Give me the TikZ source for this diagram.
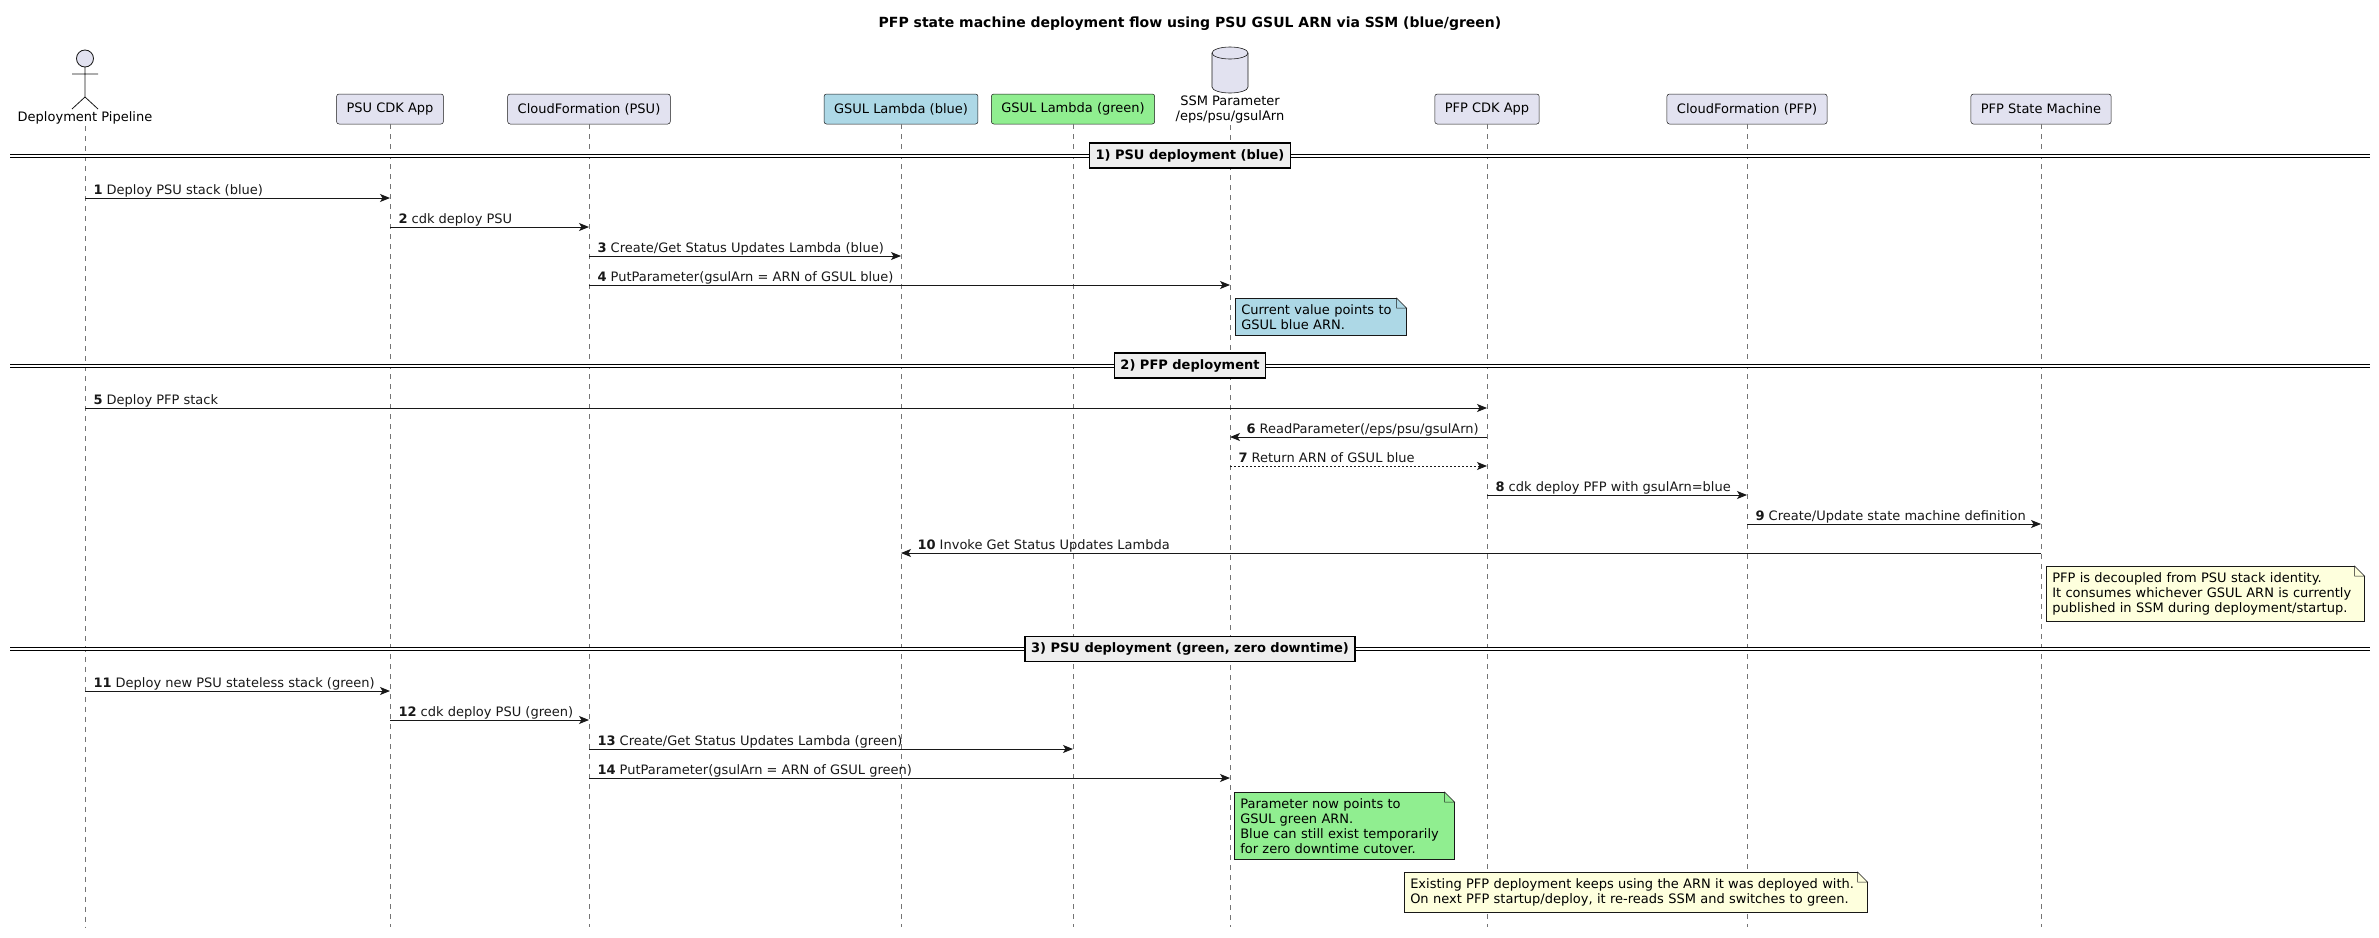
\documentclass[tikz,border=0pt]{standalone}
\usepackage{fontspec}
\setmainfont{DejaVu Sans}
\usetikzlibrary{arrows.meta}

\definecolor{partfill}{HTML}{E2E2F0}
\definecolor{linecol}{HTML}{181818}
\definecolor{notefill}{HTML}{FEFFDD}
\definecolor{gsulblue}{HTML}{ADD8E6}
\definecolor{gsulgreen}{HTML}{90EE90}
\definecolor{groupfill}{HTML}{EEEEEE}

\begin{document}
\begin{tikzpicture}[x=1pt, y=-1pt, >={Stealth[length=10pt, width=8pt, inset=2.5pt]},
    every node/.style={font=\fontsize{13}{15}\selectfont},
    part/.style={draw=linecol, line width=0.5pt, fill=partfill, rounded corners=2.5pt,
        minimum height=30pt, inner xsep=10pt},
    actorlbl/.style={inner sep=2pt, align=center},
    lifeline/.style={draw=linecol!60, line width=0.6pt, dash pattern=on 5pt off 5pt},
    msg/.style={->, linecol, line width=1pt},
    reply/.style={msg, dash pattern=on 2pt off 2pt},
    lbl/.style={anchor=base west, inner sep=0pt, xshift=8pt, yshift=4pt},
    lblback/.style={anchor=base west, inner sep=0pt, xshift=16pt, yshift=4pt},
    note/.style={draw=linecol, line width=0.5pt, fill=notefill, align=left,
        anchor=north west, inner xsep=6pt, inner ysep=6pt},
    group/.style={draw=black, line width=1.5pt, fill=groupfill, inner xsep=6pt,
        minimum height=25pt, font=\bfseries\fontsize{13}{15}\selectfont},
    sep/.style={draw=black, double=white, double distance=2pt, line width=1pt}]

    \useasboundingbox (0,0) rectangle (2379,937);
    \coordinate (bottom) at (0,927);
    \coordinate (secL) at (10,0);
    \coordinate (secR) at (2370,0);

    \node[font=\bfseries\fontsize{14}{16}\selectfont] (title) at (1190,24)
        {PFP state machine deployment flow using PSU GSUL ARN via SSM (blue/green)};

    % participants
    \node[actorlbl] (DP) at (85,118) {Deployment Pipeline};
    \node[part] (PSUCDK) at (390,109) {PSU CDK App};
    \node[part] (CFPSU) at (589,109) {CloudFormation (PSU)};
    \node[part, fill=gsulblue] (GSULBlue) at (901,109) {GSUL Lambda (blue)};
    \node[part, fill=gsulgreen] (GSULGreen) at (1073,109) {GSUL Lambda (green)};
    \node[actorlbl] (SSM) at (1230,109.5) {SSM Parameter\\/eps/psu/gsulArn};
    \node[part] (PFPCDK) at (1487,109) {PFP CDK App};
    \node[part] (CFPFP) at (1747,109) {CloudFormation (PFP)};
    \node[part] (PFPSM) at (2041,109) {PFP State Machine};

    % actor and database figures
    \draw[linecol, line width=0.8pt, fill=partfill] (85,58.5) circle[radius=8.5];
    \draw[linecol, line width=0.8pt] (85,67) -- (85,97) (72,74) -- (98,74)
        (72,109) -- (85,97) -- (98,109);
    \draw[linecol, line width=0.6pt, fill=partfill] (1212,53) -- (1212,87)
        arc[start angle=180, end angle=0, x radius=18, y radius=6] -- (1248,53)
        arc[start angle=0, end angle=-180, x radius=18, y radius=6] -- cycle;
    \draw[linecol, line width=0.6pt] (1212,53)
        arc[start angle=180, end angle=0, x radius=18, y radius=6];

    \foreach \p in {DP, PSUCDK, CFPSU, GSULBlue, GSULGreen, SSM, PFPCDK, CFPFP, PFPSM}
        \draw[lifeline] (\p.south) -- (\p.south |- bottom);

    % 1) PSU deployment (blue)
    \draw[sep] (secL |- 0,155.5) -- (secR |- 0,155.5);
    \node[group] (sec1) at (1190,155.5) {1) PSU deployment (blue)};

    \path[msg]
    (DP |- 0,198)     edge node[lbl, pos=0] {\textbf{1} Deploy PSU stack (blue)} (PSUCDK |- 0,198)
    (PSUCDK |- 0,227) edge node[lbl, pos=0] {\textbf{2} cdk deploy PSU} (CFPSU |- 0,227)
    (CFPSU |- 0,256)  edge node[lbl, pos=0] {\textbf{3} Create/Get Status Updates Lambda (blue)} (GSULBlue |- 0,256)
    (CFPSU |- 0,285)  edge node[lbl, pos=0] {\textbf{4} PutParameter(gsulArn = ARN of GSUL blue)} (SSM |- 0,285);

    \node[note, fill=gsulblue, text width=159pt] (noteBlue) at (1235,298)
        {Current value points to\\GSUL blue ARN.};

    % 2) PFP deployment
    \draw[sep] (secL |- 0,365.5) -- (secR |- 0,365.5);
    \node[group] (sec2) at (1190,365.5) {2) PFP deployment};

    \path[msg]
    (DP |- 0,408)     edge node[lbl, pos=0] {\textbf{5} Deploy PFP stack} (PFPCDK |- 0,408)
    (PFPCDK |- 0,437) edge node[lblback, pos=1] {\textbf{6} ReadParameter(/eps/psu/gsulArn)} (SSM |- 0,437)
    (PFPCDK |- 0,495) edge node[lbl, pos=0] {\textbf{8} cdk deploy PFP with gsulArn=blue} (CFPFP |- 0,495)
    (CFPFP |- 0,524)  edge node[lbl, pos=0] {\textbf{9} Create/Update state machine definition} (PFPSM |- 0,524)
    (PFPSM |- 0,553)  edge node[lblback, pos=1] {\textbf{10} Invoke Get Status Updates Lambda} (GSULBlue |- 0,553);
    \path[reply]
    (SSM |- 0,466)    edge node[lbl, pos=0] {\textbf{7} Return ARN of GSUL blue} (PFPCDK |- 0,466);

    \node[note, text width=306pt] (noteDecoupled) at (2046,566)
        {PFP is decoupled from PSU stack identity.\\It consumes whichever GSUL ARN is currently\\published in SSM during deployment/startup.};

    % 3) PSU deployment (green, zero downtime)
    \draw[sep] (secL |- 0,649) -- (secR |- 0,649);
    \node[group] (sec3) at (1190,649) {3) PSU deployment (green, zero downtime)};

    \path[msg]
    (DP |- 0,691)     edge node[lbl, pos=0] {\textbf{11} Deploy new PSU stateless stack (green)} (PSUCDK |- 0,691)
    (PSUCDK |- 0,720) edge node[lbl, pos=0] {\textbf{12} cdk deploy PSU (green)} (CFPSU |- 0,720)
    (CFPSU |- 0,749)  edge node[lbl, pos=0] {\textbf{13} Create/Get Status Updates Lambda (green)} (GSULGreen |- 0,749)
    (CFPSU |- 0,778)  edge node[lbl, pos=0] {\textbf{14} PutParameter(gsulArn = ARN of GSUL green)} (SSM |- 0,778);

    \node[note, fill=gsulgreen, text width=208pt] (noteGreen) at (1234,792)
        {Parameter now points to\\GSUL green ARN.\\Blue can still exist temporarily\\for zero downtime cutover.};
    \node[note, text width=451pt] (noteExisting) at (1404,872)
        {Existing PFP deployment keeps using the ARN it was deployed with.\\On next PFP startup/deploy, it re-reads SSM and switches to green.};

    % folded corners of the notes
    \foreach \n in {noteBlue, noteDecoupled, noteGreen, noteExisting} {
        \fill[white] ([xshift=-10pt, yshift=1pt]\n.north east) -- ([xshift=-10pt]\n.north east)
            -- ([yshift=-10pt]\n.north east) -- ([xshift=1pt, yshift=-10pt]\n.north east)
            -- ([xshift=1pt, yshift=1pt]\n.north east) -- cycle;
        \draw[linecol, line width=0.5pt] ([xshift=-10pt]\n.north east) -- ([yshift=-10pt]\n.north east)
            -- ([xshift=-10pt, yshift=-10pt]\n.north east) -- cycle;
    }
\end{tikzpicture}
\end{document}
